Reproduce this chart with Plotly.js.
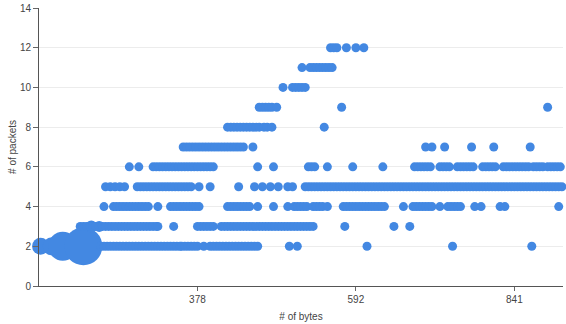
<!DOCTYPE html>
<html>
<head>
<meta charset="utf-8">
<script src="https://cdn.plot.ly/plotly-3.0.1.min.js"></script>
<style>html,body{margin:0;padding:0;background:#fff;}#chart{width:566px;height:324px;}</style>
</head>
<body>
<div id="chart"></div>
<script>
// x values are the ordinal position of each byte size on the axis; tick labels give the byte value
const tickPositions = [100, 200, 300];
const tickLabels = ['378', '592', '841'];

const row2 = [39,41,43,45,47,49,51,53,55,57,59,61,63,65,67,69,71,73,75,77,79,81,83,85,87,89,90,92,94,96,98,100,104,108,110,112,114,116,118,120,122,124,126,128,130,132,134,136,138,158,163,207,261,311];
const row3 = [26,28,30,32,34,36,38,40,42,44,46,48,50,52,54,56,58,60,62,64,66,68,70,72,74,75,85,100,102,104,106,108,110,115,117,119,121,123,125,127,129,131,133,135,137,139,141,143,145,147,149,151,153,155,157,159,161,163,165,167,169,171,173,193,224,234];
const row4 = [41,47,49,51,53,55,57,59,61,63,65,67,69,75,83,85,87,89,91,93,95,97,99,101,119,121,123,125,127,129,131,133,138,148,157,161,163,165,167,169,173,175,177,179,182,192,194,196,198,200,202,204,206,208,210,212,214,216,218,230,236,238,240,242,244,246,248,253,258,260,262,264,266,275,279,291,294,328];
const row5 = [42,45,48,51,54,62,64,66,68,70,72,74,76,78,80,82,84,86,88,90,92,94,96,101,108,126,136,141,146,151,157,160,168,170,172,174,176,178,180,182,184,186,188,190,192,194,196,198,200,202,204,206,208,210,212,214,216,218,220,222,224,226,228,230,232,234,236,238,240,242,244,246,248,250,252,254,256,258,260,262,264,266,268,270,272,274,276,278,280,282,284,286,288,290,292,294,296,298,300,302,304,306,308,310,312,314,316,318,320,322,324,326,328,330];
const row6 = [57,63,72,74,76,78,80,82,84,86,88,90,92,94,96,98,100,102,104,106,108,110,138,148,170,172,174,182,198,217,237,239,241,243,245,247,253,255,257,259,264,266,268,270,272,274,280,282,284,286,288,293,295,297,299,301,303,305,307,309,312,314,316,318,321,323,325,327,329,331];
const row7 = [91,93,95,97,99,101,103,105,107,109,111,113,115,117,119,121,123,125,127,129,135,244,248,256,273,287,310];
const row8 = [119,121,123,125,127,129,131,133,135,137,139,142,144,147,180];
const row9 = [139,141,143,145,147,150,191,321];
const row10 = [154,160,162,164,166,168];
const row11 = [166,171,173,175,177,179,181,183,185];
const row12 = [184,186,188,194,200,205];

// larger markers (many flows with the same size/packet count)
const bubbleX = [1, 8, 15, 28, 33, 38];
const bubbleY = [2, 2, 2, 2, 3, 3];
const bubbleSize = [17, 18, 29, 38, 12, 11];

const rows = [[2,row2],[3,row3],[4,row4],[5,row5],[6,row6],[7,row7],[8,row8],[9,row9],[10,row10],[11,row11],[12,row12]];
const xs = [], ys = [];
rows.forEach(([y, arr]) => arr.forEach(x => { xs.push(x); ys.push(y); }));

const blue = '#4388e2';
const traces = [
  {x: bubbleX, y: bubbleY, type: 'scatter', mode: 'markers', cliponaxis: false,
   marker: {color: blue, size: bubbleSize, opacity: 1, line: {width: 0}}, hoverinfo: 'x+y'},
  {x: xs, y: ys, type: 'scatter', mode: 'markers', cliponaxis: false,
   marker: {color: blue, size: 9, opacity: 1, line: {width: 0}}, hoverinfo: 'x+y'}
];

const font = {family: '"Liberation Sans", Arial, sans-serif', size: 10, color: '#444'};
const layout = {
  width: 566, height: 324,
  margin: {l: 39, r: 3, t: 8, b: 38},
  showlegend: false,
  paper_bgcolor: '#fff', plot_bgcolor: '#fff',
  font: font,
  xaxis: {
    range: [0, 330.7], tickvals: tickPositions, ticktext: tickLabels,
    ticks: 'outside', ticklen: 4, tickcolor: '#666', showline: true, linecolor: '#555', linewidth: 1,
    showgrid: false, zeroline: false, automargin: false,
    tickfont: {family: font.family, size: 10, color: '#444'},
    title: {text: '# of bytes', font: {family: font.family, size: 10, color: '#444'}, standoff: 8}
  },
  yaxis: {
    range: [0, 14], dtick: 2, tick0: 0,
    ticks: 'outside', ticklen: 5, tickcolor: '#666', showline: true, linecolor: '#555', linewidth: 1,
    showgrid: true, gridcolor: '#ececec', zeroline: false, automargin: false,
    tickfont: {family: font.family, size: 10, color: '#444'},
    title: {text: '# of packets', font: {family: font.family, size: 10, color: '#444'}, standoff: 1}
  }
};
Plotly.newPlot('chart', traces, layout, {displayModeBar: false, staticPlot: true});
</script>
</body>
</html>
